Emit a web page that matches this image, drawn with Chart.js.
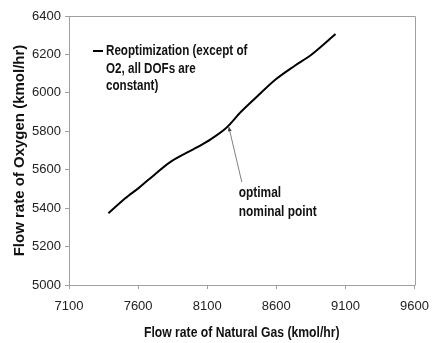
<!DOCTYPE html>
<html>
<head>
<meta charset="utf-8">
<script src="https://cdn.jsdelivr.net/npm/chart.js@4.4.1/dist/chart.umd.min.js"></script>
<style>
  html, body { margin: 0; padding: 0; background: #fff; }
  #wrap { width: 439px; height: 343px; position: relative; }
</style>
</head>
<body>
<div id="wrap"><canvas id="flowChart"></canvas></div>
<script>
  // natural gas feed vs. oxygen feed along the reoptimized path (kmol/hr)
  var gasFlow    = [7385, 7507, 7601, 7672, 7837, 8025, 8119, 8237, 8343, 8449, 8590, 8731, 8851, 9028];
  var oxygenFlow = [5373, 5451, 5503, 5546, 5642, 5716, 5755, 5817, 5900, 5973, 6067, 6140, 6197, 6306];
  var gasTicks    = [7100, 7600, 8100, 8600, 9100, 9600];
  var oxygenTicks = [5000, 5200, 5400, 5600, 5800, 6000, 6200, 6400];
  var legendLines = ['Reoptimization (except of', 'O2, all DOFs are', 'constant)'];
  var nominalPoint = [8256, 5824];   // arrow tip
  var noteAnchor   = [8350, 5536];   // arrow tail, label hangs below it
  var noteLines    = ['optimal', 'nominal point'];
  var xTitle = 'Flow rate of Natural Gas (kmol/hr)';

  var sans = '"Liberation Sans", Arial, sans-serif';
  var axisGray = '#a0a0a0';
  var textColor = '#111';

  // narrow bold lettering: draw with a horizontal squeeze
  function squeezed(ctx, text, x, y, sx) {
    ctx.save();
    ctx.translate(x, y);
    ctx.scale(sx, 1);
    ctx.fillText(text, 0, 0);
    ctx.restore();
  }

  var overlay = {
    id: 'overlay',
    beforeDatasetsDraw: function (chart) {
      var a = chart.chartArea, ctx = chart.ctx;
      ctx.save();
      ctx.strokeStyle = axisGray;
      ctx.lineWidth = 1;
      ctx.beginPath();
      ctx.moveTo(Math.round(a.left) + 0.5, Math.round(a.top) + 0.5);
      ctx.lineTo(Math.round(a.right) + 0.5, Math.round(a.top) + 0.5);
      ctx.lineTo(Math.round(a.right) + 0.5, Math.round(a.bottom) + 0.5);
      ctx.stroke();
      ctx.restore();
    },
    afterDraw: function (chart) {
      var a = chart.chartArea, ctx = chart.ctx;
      var x = chart.scales.x, y = chart.scales.y;
      ctx.save();
      ctx.textBaseline = 'middle';
      ctx.textAlign = 'left';

      // legend box inside the plot
      ctx.strokeStyle = '#000';
      ctx.lineWidth = 2;
      ctx.beginPath();
      ctx.moveTo(a.left + 24, a.top + 35);
      ctx.lineTo(a.left + 34, a.top + 35);
      ctx.stroke();
      ctx.fillStyle = textColor;
      ctx.font = 'bold 14px ' + sans;
      legendLines.forEach(function (t, i) {
        squeezed(ctx, t, a.left + 37, a.top + 35.5 + i * 17.5, 0.83);
      });

      // arrow to the nominal point
      var tx = x.getPixelForValue(nominalPoint[0]), ty = y.getPixelForValue(nominalPoint[1]);
      var sx = x.getPixelForValue(noteAnchor[0]), sy = y.getPixelForValue(noteAnchor[1]);
      ctx.strokeStyle = '#808080';
      ctx.fillStyle = '#404040';
      ctx.lineWidth = 1;
      ctx.beginPath();
      ctx.moveTo(sx, sy);
      ctx.lineTo(tx, ty);
      ctx.stroke();
      var ang = Math.atan2(ty - sy, tx - sx);
      ctx.beginPath();
      ctx.moveTo(tx, ty);
      ctx.lineTo(tx - 5 * Math.cos(ang - 0.4), ty - 5 * Math.sin(ang - 0.4));
      ctx.lineTo(tx - 5 * Math.cos(ang + 0.4), ty - 5 * Math.sin(ang + 0.4));
      ctx.closePath();
      ctx.fill();

      ctx.fillStyle = textColor;
      noteLines.forEach(function (t, i) {
        squeezed(ctx, t, sx - 3, sy + 11 + i * 19, 0.85);
      });

      // x axis title
      ctx.textAlign = 'center';
      squeezed(ctx, xTitle, (a.left + a.right) / 2, 333, 0.87);
      ctx.restore();
    }
  };

  function plain(v) { return String(v); }

  var ctx = document.getElementById('flowChart').getContext('2d');
  var myChart = new Chart(ctx, {
    type: 'line',
    data: {
      datasets: [{
        label: 'Reoptimization',
        data: gasFlow.map(function (g, i) { return { x: g, y: oxygenFlow[i] }; }),
        borderColor: '#000',
        borderWidth: 2,
        pointRadius: 0,
        tension: 0.3,
        fill: false
      }]
    },
    options: {
      responsive: true,
      maintainAspectRatio: false,
      animation: false,
      layout: { padding: { top: 16, right: 16, left: 0, bottom: 0 } },
      plugins: { legend: { display: false }, tooltip: { enabled: false } },
      scales: {
        x: {
          type: 'linear',
          min: 7100,
          max: 9600,
          afterBuildTicks: function (s) { s.ticks = gasTicks.map(function (v) { return { value: v }; }); },
          afterFit: function (s) { s.height = 58; },
          grid: { drawOnChartArea: false, color: axisGray, tickLength: 4 },
          border: { color: axisGray },
          ticks: { color: '#222', padding: 10, maxRotation: 0, callback: plain, font: { family: sans, size: 13 } }
        },
        y: {
          min: 5000,
          max: 6400,
          afterBuildTicks: function (s) { s.ticks = oxygenTicks.map(function (v) { return { value: v }; }); },
          afterFit: function (s) { s.width = 69; },
          grid: { drawOnChartArea: false, color: axisGray, tickLength: 4 },
          border: { color: axisGray },
          ticks: { color: '#222', padding: 4, callback: plain, font: { family: sans, size: 13 } },
          title: {
            display: true,
            text: 'Flow rate of Oxygen (kmol/hr)',
            color: textColor,
            padding: { top: 11, bottom: 0 },
            font: { family: sans, size: 15, weight: 'bold' }
          }
        }
      }
    },
    plugins: [overlay]
  });
</script>
</body>
</html>
